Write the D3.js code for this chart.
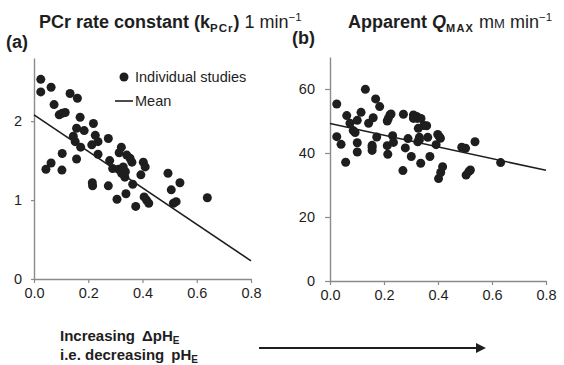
<!DOCTYPE html>
<html>
<head>
<meta charset="utf-8">
<script src="https://cdn.jsdelivr.net/npm/d3@7/dist/d3.min.js"></script>
<style>
  body { margin: 0; background: #fff; }
  svg { font-family: "Liberation Sans", Arial, sans-serif; }
</style>
</head>
<body>
<div id="chart"></div>
<script>
// tick values
const xTicks = [0, 0.2, 0.4, 0.6, 0.8];
const kTicks = [0, 1, 2];
const qTicks = [0, 20, 40, 60];

// (a) PCr rate constant, one point per study
const kX = [0.025, 0.025, 0.063, 0.133, 0.160, 0.074, 0.093, 0.104, 0.115, 0.170,
  0.219, 0.157, 0.185, 0.145, 0.226, 0.152, 0.236, 0.274, 0.172, 0.213,
  0.236, 0.322, 0.314, 0.342, 0.354, 0.361, 0.279, 0.403, 0.410, 0.104,
  0.157, 0.063, 0.044, 0.103, 0.290, 0.312, 0.329, 0.337, 0.323, 0.335,
  0.394, 0.494, 0.215, 0.216, 0.274, 0.364, 0.538, 0.506, 0.339, 0.306,
  0.406, 0.415, 0.423, 0.375, 0.514, 0.524, 0.639];
const kY = [2.53, 2.37, 2.43, 2.35, 2.29, 2.21, 2.08, 2.10, 2.11, 2.05,
  1.97, 1.91, 1.88, 1.81, 1.82, 1.74, 1.74, 1.78, 1.67, 1.70,
  1.58, 1.67, 1.60, 1.57, 1.53, 1.48, 1.50, 1.48, 1.42, 1.59,
  1.52, 1.47, 1.39, 1.38, 1.40, 1.39, 1.42, 1.36, 1.34, 1.29,
  1.32, 1.34, 1.22, 1.18, 1.18, 1.20, 1.22, 1.13, 1.08, 1.01,
  1.04, 1.00, 0.96, 0.92, 0.96, 0.98, 1.03];

// (b) apparent Qmax
const qX = [0.025, 0.025, 0.041, 0.058, 0.062, 0.074, 0.086, 0.093, 0.101, 0.101,
  0.101, 0.115, 0.131, 0.143, 0.156, 0.156, 0.156, 0.160, 0.169, 0.173,
  0.184, 0.212, 0.216, 0.222, 0.226, 0.212, 0.214, 0.232, 0.235, 0.270,
  0.272, 0.279, 0.289, 0.301, 0.309, 0.321, 0.309, 0.323, 0.337, 0.327,
  0.331, 0.331, 0.325, 0.336, 0.348, 0.358, 0.362, 0.370, 0.393, 0.399,
  0.405, 0.409, 0.402, 0.410, 0.417, 0.488, 0.502, 0.504, 0.514, 0.520,
  0.537, 0.632];
const qY = [55.3, 45.1, 42.7, 37.1, 51.7, 49.3, 47.0, 46.4, 50.2, 43.2,
  40.3, 52.7, 59.9, 49.3, 42.4, 41.8, 40.8, 51.0, 56.9, 45.0,
  54.5, 50.0, 50.8, 51.9, 52.2, 42.3, 39.6, 45.4, 43.3, 34.5,
  52.1, 41.6, 44.5, 38.9, 51.9, 51.4, 50.8, 50.8, 50.8, 47.7,
  44.9, 44.1, 43.5, 36.8, 48.6, 48.5, 44.9, 38.9, 42.6, 45.8,
  45.1, 44.6, 32.0, 33.9, 35.7, 41.8, 41.5, 33.1, 34.2, 34.7,
  43.5, 37.0];

// mean lines, value at x = 0 and x = 0.8
const meanX = [0, 0.8];
const kMean = [2.08, 0.23];
const qMean = [49.2, 34.6];

const width = 564, height = 365;
const ink = '#1e1e1e';
const axisGrey = '#8a8a8a';

let svg = d3.select('#chart').append('svg')
  .attr('width', width)
  .attr('height', height);

function drawPanel(opt) {
  let x = d3.scaleLinear().domain([0, 0.8]).range([opt.left, opt.right]);
  let y = d3.scaleLinear().domain([0, opt.yMax]).range([opt.bottom, opt.top]);

  let g = svg.append('g');

  let xAxis = g.append('g')
    .attr('transform', 'translate(0,' + opt.bottom + ')')
    .call(d3.axisBottom(x).tickValues(xTicks).tickFormat(d3.format('.1f'))
      .tickSize(4).tickSizeOuter(0).tickPadding(5));

  let yAxis = g.append('g')
    .attr('transform', 'translate(' + opt.left + ',0)')
    .call(d3.axisLeft(y).tickValues(opt.yTicks).tickFormat(d3.format('d'))
      .tickSize(opt.tick).tickSizeOuter(0).tickPadding(opt.pad));

  [xAxis, yAxis].forEach(a => {
    a.select('.domain').attr('stroke', axisGrey).attr('stroke-width', 1.4);
    a.selectAll('.tick line').attr('stroke', axisGrey).attr('stroke-width', 1.2);
    a.selectAll('.tick text')
      .attr('fill', ink)
      .style('font-size', '14.5px')
      .style('font-family', '"Liberation Sans", Arial, sans-serif');
  });

  g.append('g')
    .selectAll('circle')
    .data(d3.zip(opt.xs, opt.ys))
    .enter()
    .append('circle')
    .attr('cx', d => x(d[0]))
    .attr('cy', d => y(d[1]))
    .attr('r', 4.5)
    .attr('fill', ink);

  g.append('line')
    .attr('x1', x(meanX[0]))
    .attr('y1', y(opt.mean[0]))
    .attr('x2', x(meanX[1]))
    .attr('y2', y(opt.mean[1]))
    .attr('stroke', ink)
    .attr('stroke-width', 1.6);
}

drawPanel({left: 34, right: 251, top: 58, bottom: 279, yMax: 2.8,
  yTicks: kTicks, tick: 3, pad: 9, xs: kX, ys: kY, mean: kMean});
drawPanel({left: 330, right: 546, top: 57, bottom: 281, yMax: 70,
  yTicks: qTicks, tick: 5, pad: 10, xs: qX, ys: qY, mean: qMean});

// panel letters
svg.append('text').attr('x', 6).attr('y', 48).text('(a)')
  .style('font-size', '18px').style('font-weight', 'bold').attr('fill', ink);
svg.append('text').attr('x', 292).attr('y', 44).text('(b)')
  .style('font-size', '18px').style('font-weight', 'bold').attr('fill', ink);

// titles
let tA = svg.append('text').attr('x', 39).attr('y', 28)
  .style('font-size', '18px').style('font-weight', 'bold').attr('fill', ink);
tA.append('tspan').text('PCr rate constant (k');
tA.append('tspan').attr('dy', 4).style('font-size', '11.5px').style('letter-spacing', '1px').text('PCr');
tA.append('tspan').attr('dy', -4).text(')');
tA.append('tspan').style('font-weight', 'normal').text(' 1 min');
tA.append('tspan').attr('dy', -7).style('font-weight', 'normal').style('font-size', '11.5px').text('\u22121');

let tB = svg.append('text').attr('x', 348).attr('y', 28)
  .style('font-size', '18px').style('font-weight', 'bold').attr('fill', ink);
tB.append('tspan').text('Apparent ');
tB.append('tspan').style('font-style', 'italic').text('Q');
tB.append('tspan').attr('dy', 4).style('font-size', '11px').style('letter-spacing', '1.2px').text('MAX');
tB.append('tspan').attr('dy', -4).style('font-weight', 'normal').text(' m');
tB.append('tspan').style('font-weight', 'normal').style('font-size', '13px').text('M');
tB.append('tspan').style('font-weight', 'normal').text(' min');
tB.append('tspan').attr('dy', -7).style('font-weight', 'normal').style('font-size', '11.5px').text('\u22121');

// legend in panel (a)
svg.append('circle').attr('cx', 124).attr('cy', 77).attr('r', 4.5).attr('fill', ink);
svg.append('text').attr('x', 135).attr('y', 82).text('Individual studies')
  .style('font-size', '14.5px').attr('fill', ink);
svg.append('line').attr('x1', 115).attr('x2', 133).attr('y1', 101).attr('y2', 101)
  .attr('stroke', ink).attr('stroke-width', 1.6);
svg.append('text').attr('x', 135).attr('y', 106).text('Mean')
  .style('font-size', '14.5px').attr('fill', ink);

// bottom note with arrow
let n1 = svg.append('text').attr('x', 60).attr('y', 341)
  .style('font-size', '15px').style('font-weight', 'bold').attr('fill', ink);
n1.append('tspan').text('Increasing');
n1.append('tspan').attr('dx', 7).text('\u0394pH');
n1.append('tspan').attr('dy', 3).style('font-size', '10px').text('E');

let n2 = svg.append('text').attr('x', 60).attr('y', 360)
  .style('font-size', '15px').style('font-weight', 'bold').attr('fill', ink);
n2.append('tspan').text('i.e. decreasing');
n2.append('tspan').attr('dx', 7).text('pH');
n2.append('tspan').attr('dy', 3).style('font-size', '10px').text('E');

svg.append('defs').append('marker')
  .attr('id', 'head')
  .attr('viewBox', '0 0 10 10')
  .attr('refX', 0).attr('refY', 5)
  .attr('markerWidth', 4.5).attr('markerHeight', 4.5)
  .attr('orient', 'auto')
  .append('path').attr('d', 'M0,0L10,5L0,10z').attr('fill', ink);

svg.append('line')
  .attr('x1', 259).attr('y1', 348).attr('x2', 476).attr('y2', 348)
  .attr('stroke', ink).attr('stroke-width', 2.2)
  .attr('marker-end', 'url(#head)');
</script>
</body>
</html>
